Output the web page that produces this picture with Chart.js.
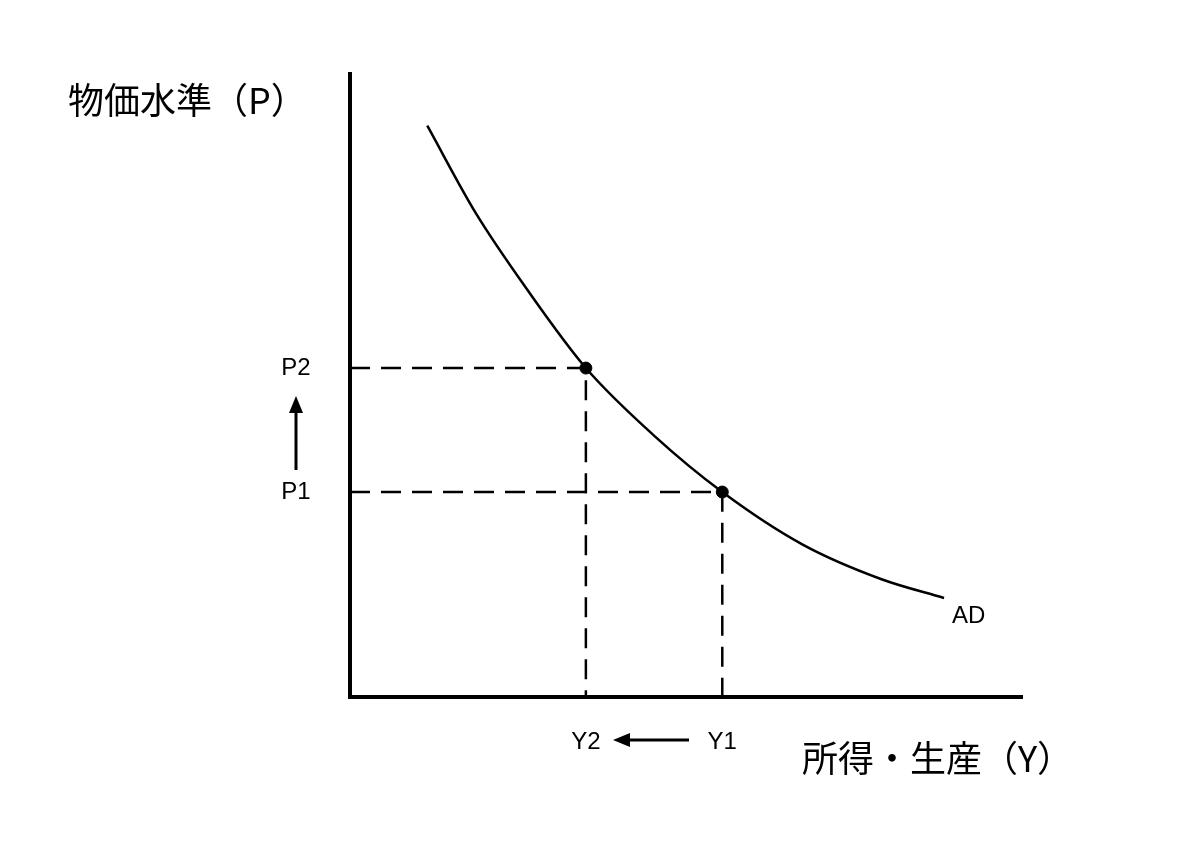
<!DOCTYPE html>
<html><head><meta charset="utf-8">
<script src="https://cdn.jsdelivr.net/npm/chart.js@4"></script>
<style>html,body{margin:0;background:#fff}#c{display:block}</style>
</head><body>
<canvas id="c" width="1200" height="862"></canvas>
<script>
// AD curve (x = output, y = price level), axis units 0..100
var curveX = [11.5, 18.7, 26.1, 35.1, 45.2, 55.4, 67.3, 79.1, 88.4];
var curveY = [91.7, 77.7, 65.8, 52.8, 42.0, 32.9, 24.5, 18.9, 15.9];
var pointLabelsX = ["Y2", "Y1"];
var pointLabelsY = ["P2", "P1"];
var pointX = [35.1, 55.4];
var pointY = [52.8, 32.9];

var curve = curveX.map(function (x, i) { return { x: x, y: curveY[i] }; });
var dashSets = pointX.map(function (x, i) {
    return {
        data: [{ x: 0, y: pointY[i] }, { x: x, y: pointY[i] }, { x: x, y: 0 }],
        borderColor: "#000", borderWidth: 2.5, borderDash: [20, 11],
        pointRadius: 0, showLine: true, tension: 0
    };
});

var labelsPlugin = {
    id: "labels",
    afterDraw: function (chart) {
        var ctx = chart.ctx, xs = chart.scales.x, ys = chart.scales.y;
        ctx.save();
        ctx.fillStyle = "#000";
        ctx.font = "24px 'Liberation Sans', Arial";
        ctx.textBaseline = "middle";
        ctx.textAlign = "center";
        for (var i = 0; i < pointX.length; i++) {
            ctx.fillText(pointLabelsY[i], 296, ys.getPixelForValue(pointY[i]));
            ctx.fillText(pointLabelsX[i], xs.getPixelForValue(pointX[i]), 742);
        }
        ctx.textAlign = "left";
        ctx.fillText("AD", 952, 616);
        // arrows
        ctx.strokeStyle = "#000"; ctx.lineWidth = 3;
        ctx.beginPath(); ctx.moveTo(296, 470); ctx.lineTo(296, 410); ctx.stroke();
        ctx.beginPath(); ctx.moveTo(296, 396); ctx.lineTo(289, 413); ctx.lineTo(303, 413); ctx.closePath(); ctx.fill();
        ctx.beginPath(); ctx.moveTo(689, 740); ctx.lineTo(628, 740); ctx.stroke();
        ctx.beginPath(); ctx.moveTo(613, 740); ctx.lineTo(630, 733); ctx.lineTo(630, 747); ctx.closePath(); ctx.fill();
        // axis titles
        ctx.font = "36px 'Noto Sans CJK JP'";
        ctx.fillText("物価水準（P）", 68, 100);
        ctx.fillText("所得・生産（Y）", 802, 758);
        ctx.restore();
    }
};

new Chart(document.getElementById("c"), {
    type: "scatter",
    data: {
        datasets: [{
            data: curve, borderColor: "#000", borderWidth: 2.5, showLine: true,
            cubicInterpolationMode: "monotone", pointRadius: 0
        }].concat(dashSets).concat([{
            data: pointX.map(function (x, i) { return { x: x, y: pointY[i] }; }),
            backgroundColor: "#000", borderColor: "#000", pointRadius: 6
        }])
    },
    options: {
        responsive: false, animation: false,
        layout: { padding: { left: 342, right: 178, top: 74, bottom: 157 } },
        plugins: { legend: { display: false }, tooltip: { enabled: false } },
        scales: {
            x: { min: 0, max: 100, grid: { display: false }, ticks: { display: false },
                 border: { color: "#000", width: 4 } },
            y: { min: 0, max: 100, grid: { display: false }, ticks: { display: false },
                 border: { color: "#000", width: 4 } }
        }
    },
    plugins: [labelsPlugin]
});
</script>
</body></html>
